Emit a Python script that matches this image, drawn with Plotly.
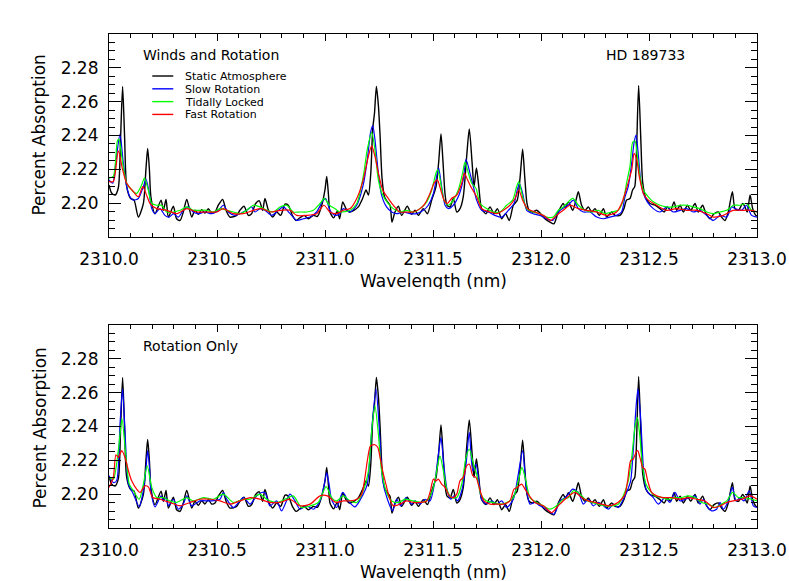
import plotly.graph_objects as go
from plotly.subplots import make_subplots

# ---------------- data ----------------
# Static atmosphere (same in both panels)
wl_static = [2310.000, 2310.012, 2310.028, 2310.043, 2310.054, 2310.063, 2310.072, 2310.082, 2310.100, 2310.116,
             2310.136, 2310.159, 2310.171, 2310.179, 2310.187, 2310.194, 2310.213, 2310.241, 2310.252, 2310.264,
             2310.275, 2310.298, 2310.313, 2310.329, 2310.344, 2310.360, 2310.383, 2310.398, 2310.414, 2310.429,
             2310.444, 2310.460, 2310.475, 2310.491, 2310.506, 2310.526, 2310.542, 2310.560, 2310.591, 2310.606,
             2310.625, 2310.645, 2310.660, 2310.679, 2310.696, 2310.711, 2310.722, 2310.738, 2310.758, 2310.776,
             2310.795, 2310.815, 2310.830, 2310.849, 2310.866, 2310.884, 2310.903, 2310.923, 2310.946, 2310.965,
             2310.985, 2311.000, 2311.008, 2311.016, 2311.023, 2311.040, 2311.057, 2311.068, 2311.082, 2311.097,
             2311.113, 2311.134, 2311.154, 2311.174, 2311.190, 2311.201, 2311.212, 2311.221, 2311.229, 2311.238,
             2311.247, 2311.255, 2311.264, 2311.275, 2311.285, 2311.301, 2311.310, 2311.324, 2311.340, 2311.355,
             2311.381, 2311.401, 2311.417, 2311.432, 2311.455, 2311.474, 2311.494, 2311.514, 2311.526, 2311.537,
             2311.546, 2311.556, 2311.565, 2311.579, 2311.594, 2311.610, 2311.625, 2311.640, 2311.656, 2311.668,
             2311.681, 2311.690, 2311.701, 2311.712, 2311.725, 2311.745, 2311.764, 2311.782, 2311.798, 2311.818,
             2311.836, 2311.853, 2311.872, 2311.890, 2311.903, 2311.915, 2311.925, 2311.935, 2311.945, 2311.961,
             2311.980, 2311.998, 2312.018, 2312.042, 2312.060, 2312.080, 2312.103, 2312.113, 2312.127, 2312.147,
             2312.162, 2312.173, 2312.188, 2312.204, 2312.219, 2312.235, 2312.250, 2312.270, 2312.289, 2312.304,
             2312.327, 2312.343, 2312.366, 2312.384, 2312.396, 2312.412, 2312.424, 2312.434, 2312.442, 2312.452,
             2312.462, 2312.471, 2312.486, 2312.505, 2312.528, 2312.551, 2312.570, 2312.585, 2312.600, 2312.616,
             2312.628, 2312.644, 2312.659, 2312.678, 2312.693, 2312.713, 2312.728, 2312.748, 2312.764, 2312.782,
             2312.801, 2312.821, 2312.836, 2312.852, 2312.867, 2312.886, 2312.898, 2312.914, 2312.934, 2312.944,
             2312.955, 2312.968, 2312.980, 2312.995, 2313.000]
pa_static = [2.2108, 2.2060, 2.2048, 2.2090, 2.2400, 2.2690, 2.2400, 2.2098, 2.2028, 2.2018,
             2.1918, 2.1998, 2.2200, 2.2323, 2.2200, 2.2038, 2.1938, 2.2018, 2.1958, 2.2022,
             2.1918, 2.1982, 2.1908, 2.1898, 2.1948, 2.2022, 2.1918, 2.1958, 2.1934, 2.1962,
             2.1942, 2.1968, 2.1942, 2.1948, 2.1988, 2.2022, 2.1958, 2.1918, 2.1928, 2.1958,
             2.1982, 2.1928, 2.1938, 2.1998, 2.2014, 2.1958, 2.2028, 2.1958, 2.1918, 2.1948,
             2.1928, 2.1994, 2.1988, 2.1928, 2.1898, 2.1914, 2.1928, 2.1908, 2.1928, 2.1922,
             2.1988, 2.2080, 2.2158, 2.2050, 2.1948, 2.1913, 2.1953, 2.1908, 2.2008, 2.1968,
             2.1948, 2.1958, 2.1978, 2.2028, 2.2078, 2.2048, 2.2178, 2.2440, 2.2530, 2.2690,
             2.2580, 2.2400, 2.2150, 2.2040, 2.2015, 2.1988, 2.1888, 2.1948, 2.1982, 2.1928,
             2.1982, 2.1934, 2.1958, 2.1928, 2.1968, 2.1938, 2.2018, 2.2098, 2.2239, 2.2409,
             2.2250, 2.2050, 2.1988, 2.1978, 2.2028, 2.1948, 2.1968, 2.2038, 2.2279, 2.2439,
             2.2239, 2.2098, 2.2209, 2.2098, 2.1968, 2.1938, 2.1978, 2.1938, 2.1968, 2.1908,
             2.1938, 2.1898, 2.1988, 2.2018, 2.2150, 2.2319, 2.2150, 2.2000, 2.1958, 2.1948,
             2.1958, 2.1938, 2.1908, 2.1888, 2.1878, 2.1948, 2.1998, 2.1975, 2.2008, 2.1958,
             2.2018, 2.2068, 2.1988, 2.1958, 2.1978, 2.1948, 2.1968, 2.1928, 2.1968, 2.1918,
             2.1948, 2.1928, 2.1928, 2.1968, 2.2018, 2.2028, 2.2078, 2.2098, 2.2300, 2.2696,
             2.2380, 2.2120, 2.2028, 2.1998, 2.1988, 2.1968, 2.1948, 2.1978, 2.1958, 2.2008,
             2.1958, 2.1988, 2.1948, 2.1988, 2.1958, 2.1998, 2.1948, 2.1988, 2.1938, 2.1908,
             2.1938, 2.1948, 2.1918, 2.1898, 2.1948, 2.2068, 2.1968, 2.1958, 2.1998, 2.1978,
             2.1948, 2.2048, 2.1968, 2.1928, 2.1925]

# ---- Winds and Rotation panel ----
wl_slow_wr = [2310.000, 2310.017, 2310.035, 2310.051, 2310.066, 2310.082, 2310.097, 2310.113, 2310.136, 2310.159,
              2310.171, 2310.184, 2310.198, 2310.213, 2310.236, 2310.259, 2310.279, 2310.298, 2310.321, 2310.344,
              2310.367, 2310.390, 2310.414, 2310.444, 2310.475, 2310.506, 2310.529, 2310.552, 2310.583, 2310.606,
              2310.637, 2310.660, 2310.676, 2310.699, 2310.722, 2310.753, 2310.784, 2310.807, 2310.838, 2310.869,
              2310.900, 2310.931, 2310.961, 2310.992, 2311.003, 2311.023, 2311.046, 2311.069, 2311.085, 2311.116,
              2311.147, 2311.177, 2311.196, 2311.211, 2311.221, 2311.231, 2311.247, 2311.262, 2311.285, 2311.309,
              2311.332, 2311.363, 2311.394, 2311.424, 2311.455, 2311.478, 2311.502, 2311.517, 2311.526, 2311.540,
              2311.556, 2311.571, 2311.594, 2311.617, 2311.640, 2311.653, 2311.671, 2311.687, 2311.702, 2311.725,
              2311.756, 2311.787, 2311.818, 2311.849, 2311.875, 2311.890, 2311.900, 2311.915, 2311.934, 2311.964,
              2311.995, 2312.026, 2312.054, 2312.080, 2312.111, 2312.125, 2312.150, 2312.173, 2312.196, 2312.227,
              2312.258, 2312.289, 2312.319, 2312.350, 2312.373, 2312.389, 2312.404, 2312.420, 2312.431, 2312.440,
              2312.451, 2312.461, 2312.474, 2312.492, 2312.520, 2312.551, 2312.582, 2312.613, 2312.644, 2312.674,
              2312.705, 2312.736, 2312.767, 2312.798, 2312.829, 2312.860, 2312.883, 2312.898, 2312.929, 2312.951,
              2312.975, 2313.000]
pa_slow_wr = [2.2138, 2.2118, 2.2279, 2.2409, 2.2239, 2.2098, 2.2038, 2.2018, 2.2028, 2.2098,
              2.2142, 2.2078, 2.1968, 2.1938, 2.1968, 2.1928, 2.1918, 2.1938, 2.1918, 2.1958,
              2.1978, 2.1948, 2.1938, 2.1948, 2.1938, 2.1958, 2.1988, 2.1948, 2.1928, 2.1938,
              2.1958, 2.1978, 2.1948, 2.1968, 2.1958, 2.1928, 2.1958, 2.1978, 2.1938, 2.1898,
              2.1908, 2.1918, 2.1948, 2.2018, 2.2028, 2.1958, 2.1928, 2.1938, 2.1968, 2.1948,
              2.1988, 2.2108, 2.2259, 2.2419, 2.2459, 2.2379, 2.2178, 2.2048, 2.1978, 2.1948,
              2.1938, 2.1948, 2.1938, 2.1938, 2.1958, 2.1988, 2.2058, 2.2158, 2.2209, 2.2098,
              2.1988, 2.1968, 2.1988, 2.2038, 2.2138, 2.2259, 2.2178, 2.2098, 2.2018, 2.1958,
              2.1948, 2.1928, 2.1918, 2.1958, 2.1998, 2.2078, 2.2118, 2.2058, 2.1958, 2.1938,
              2.1928, 2.1908, 2.1898, 2.1948, 2.1978, 2.1988, 2.2018, 2.1968, 2.1948, 2.1948,
              2.1918, 2.1908, 2.1918, 2.1928, 2.1948, 2.2038, 2.2098, 2.2239, 2.2359, 2.2403,
              2.2279, 2.2138, 2.2058, 2.2008, 2.1968, 2.1948, 2.1978, 2.1948, 2.1958, 2.1968,
              2.1948, 2.1958, 2.1928, 2.1898, 2.1928, 2.1918, 2.1978, 2.1968, 2.1958, 2.1988,
              2.1928, 2.1918]

wl_tidal_wr = [2310.000, 2310.020, 2310.039, 2310.046, 2310.063, 2310.082, 2310.105, 2310.128, 2310.151, 2310.164,
               2310.182, 2310.198, 2310.221, 2310.244, 2310.267, 2310.298, 2310.329, 2310.360, 2310.390, 2310.421,
               2310.452, 2310.483, 2310.514, 2310.545, 2310.576, 2310.606, 2310.637, 2310.668, 2310.699, 2310.730,
               2310.761, 2310.792, 2310.823, 2310.853, 2310.884, 2310.915, 2310.946, 2310.977, 2310.997, 2311.020,
               2311.046, 2311.069, 2311.116, 2311.147, 2311.177, 2311.196, 2311.216, 2311.231, 2311.247, 2311.267,
               2311.293, 2311.316, 2311.347, 2311.378, 2311.409, 2311.440, 2311.471, 2311.494, 2311.514, 2311.522,
               2311.536, 2311.551, 2311.571, 2311.594, 2311.617, 2311.637, 2311.648, 2311.664, 2311.679, 2311.699,
               2311.718, 2311.748, 2311.779, 2311.810, 2311.841, 2311.869, 2311.887, 2311.897, 2311.915, 2311.934,
               2311.964, 2311.995, 2312.026, 2312.057, 2312.080, 2312.103, 2312.119, 2312.147, 2312.173, 2312.204,
               2312.235, 2312.265, 2312.296, 2312.327, 2312.358, 2312.381, 2312.396, 2312.412, 2312.424, 2312.435,
               2312.446, 2312.458, 2312.474, 2312.497, 2312.520, 2312.551, 2312.582, 2312.613, 2312.644, 2312.674,
               2312.705, 2312.736, 2312.767, 2312.798, 2312.829, 2312.860, 2312.890, 2312.921, 2312.951, 2312.975,
               2313.000]
pa_tidal_wr = [2.2148, 2.2158, 2.2369, 2.2379, 2.2239, 2.2118, 2.2078, 2.2058, 2.2108, 2.2148,
               2.2078, 2.1998, 2.1988, 2.1988, 2.1948, 2.1948, 2.1958, 2.1978, 2.1958, 2.1958,
               2.1958, 2.1948, 2.1968, 2.1958, 2.1948, 2.1938, 2.1958, 2.1988, 2.1978, 2.1958,
               2.1948, 2.1978, 2.1988, 2.1948, 2.1948, 2.1948, 2.1958, 2.1998, 2.2028, 2.1988,
               2.1968, 2.1948, 2.1958, 2.1998, 2.2158, 2.2319, 2.2419, 2.2319, 2.2138, 2.2048,
               2.1998, 2.1968, 2.1948, 2.1958, 2.1948, 2.1968, 2.2008, 2.2078, 2.2178, 2.2198,
               2.2118, 2.2018, 2.1988, 2.2018, 2.2078, 2.2178, 2.2243, 2.2178, 2.2118, 2.2088,
               2.1998, 2.1968, 2.1948, 2.1948, 2.1988, 2.2018, 2.2098, 2.2128, 2.2038, 2.1968,
               2.1948, 2.1938, 2.1918, 2.1918, 2.1958, 2.1978, 2.1998, 2.2028, 2.1988, 2.1958,
               2.1948, 2.1958, 2.1938, 2.1948, 2.1958, 2.2018, 2.2118, 2.2219, 2.2359, 2.2369,
               2.2279, 2.2158, 2.2078, 2.2038, 2.2008, 2.1988, 2.1978, 2.1978, 2.1988, 2.1988,
               2.1978, 2.1968, 2.1948, 2.1938, 2.1948, 2.1958, 2.1988, 2.1988, 2.1998, 2.1958,
               2.1948]

wl_fast_wr = [2310.000, 2310.020, 2310.043, 2310.063, 2310.082, 2310.113, 2310.136, 2310.156, 2310.171, 2310.190,
              2310.221, 2310.267, 2310.313, 2310.360, 2310.406, 2310.452, 2310.498, 2310.529, 2310.576, 2310.622,
              2310.668, 2310.707, 2310.745, 2310.792, 2310.838, 2310.869, 2310.915, 2310.961, 2310.995, 2311.023,
              2311.054, 2311.085, 2311.116, 2311.147, 2311.177, 2311.201, 2311.216, 2311.231, 2311.247, 2311.267,
              2311.293, 2311.316, 2311.347, 2311.378, 2311.409, 2311.440, 2311.463, 2311.486, 2311.505, 2311.520,
              2311.536, 2311.551, 2311.566, 2311.586, 2311.610, 2311.633, 2311.645, 2311.660, 2311.679, 2311.702,
              2311.725, 2311.764, 2311.795, 2311.826, 2311.856, 2311.880, 2311.897, 2311.915, 2311.937, 2311.972,
              2312.011, 2312.045, 2312.072, 2312.103, 2312.134, 2312.173, 2312.211, 2312.258, 2312.304, 2312.350,
              2312.373, 2312.396, 2312.420, 2312.431, 2312.443, 2312.455, 2312.474, 2312.497, 2312.535, 2312.582,
              2312.628, 2312.674, 2312.721, 2312.767, 2312.798, 2312.844, 2312.890, 2312.937, 2312.975, 2313.000]
pa_fast_wr = [2.2128, 2.2128, 2.2309, 2.2198, 2.2118, 2.2068, 2.2038, 2.2098, 2.2058, 2.1998,
              2.1968, 2.1958, 2.1938, 2.1968, 2.1948, 2.1948, 2.1948, 2.1968, 2.1938, 2.1938,
              2.1958, 2.1968, 2.1948, 2.1958, 2.1958, 2.1928, 2.1928, 2.1938, 2.1988, 2.1948,
              2.1938, 2.1958, 2.1968, 2.2028, 2.2138, 2.2279, 2.2339, 2.2279, 2.2178, 2.2078,
              2.2028, 2.1988, 2.1948, 2.1948, 2.1948, 2.1968, 2.1998, 2.2058, 2.2118, 2.2138,
              2.2078, 2.2018, 2.1998, 2.2028, 2.2048, 2.2118, 2.2178, 2.2138, 2.2088, 2.2038,
              2.1968, 2.1948, 2.1938, 2.1958, 2.1988, 2.2028, 2.2078, 2.2018, 2.1968, 2.1948,
              2.1928, 2.1898, 2.1928, 2.1958, 2.1988, 2.1968, 2.1958, 2.1948, 2.1928, 2.1948,
              2.1998, 2.2088, 2.2198, 2.2295, 2.2259, 2.2158, 2.2058, 2.2018, 2.1988, 2.1958,
              2.1968, 2.1958, 2.1958, 2.1938, 2.1918, 2.1928, 2.1958, 2.1958, 2.1958, 2.1948]

# ---- Rotation Only panel ----
wl_slow_rot = [2310.000, 2310.020, 2310.035, 2310.051, 2310.063, 2310.076, 2310.090, 2310.113, 2310.140, 2310.159,
               2310.171, 2310.179, 2310.188, 2310.194, 2310.213, 2310.241, 2310.252, 2310.264, 2310.275, 2310.298,
               2310.321, 2310.344, 2310.360, 2310.383, 2310.421, 2310.468, 2310.514, 2310.529, 2310.545, 2310.576,
               2310.622, 2310.653, 2310.684, 2310.707, 2310.722, 2310.745, 2310.776, 2310.799, 2310.838, 2310.861,
               2310.884, 2310.915, 2310.946, 2310.977, 2310.997, 2311.008, 2311.020, 2311.030, 2311.054, 2311.082,
               2311.108, 2311.139, 2311.177, 2311.196, 2311.216, 2311.236, 2311.252, 2311.267, 2311.289, 2311.313,
               2311.332, 2311.350, 2311.375, 2311.401, 2311.417, 2311.440, 2311.463, 2311.486, 2311.509, 2311.525,
               2311.537, 2311.551, 2311.566, 2311.582, 2311.597, 2311.613, 2311.633, 2311.653, 2311.668, 2311.684,
               2311.699, 2311.712, 2311.725, 2311.748, 2311.772, 2311.795, 2311.818, 2311.841, 2311.872, 2311.895,
               2311.915, 2311.930, 2311.949, 2311.972, 2311.995, 2312.026, 2312.060, 2312.088, 2312.111, 2312.127,
               2312.147, 2312.173, 2312.196, 2312.219, 2312.242, 2312.265, 2312.289, 2312.312, 2312.335, 2312.358,
               2312.381, 2312.396, 2312.415, 2312.427, 2312.440, 2312.449, 2312.461, 2312.474, 2312.486, 2312.502,
               2312.520, 2312.543, 2312.574, 2312.597, 2312.620, 2312.644, 2312.667, 2312.690, 2312.713, 2312.736,
               2312.752, 2312.767, 2312.790, 2312.813, 2312.829, 2312.844, 2312.867, 2312.886, 2312.903, 2312.921,
               2312.940, 2312.964, 2312.983, 2313.000]
pa_slow_rot = [2.2109, 2.2069, 2.2079, 2.2415, 2.2622, 2.2316, 2.2059, 2.2000, 2.1925, 2.2020,
               2.2150, 2.2257, 2.2150, 2.2020, 2.1925, 2.1990, 2.1960, 2.1980, 2.1931, 2.1970,
               2.1911, 2.1941, 2.1990, 2.1931, 2.1960, 2.1960, 2.1970, 2.2010, 2.1970, 2.1921,
               2.1980, 2.1941, 2.1990, 2.2010, 2.2010, 2.1931, 2.1960, 2.1901, 2.2000, 2.1960,
               2.1911, 2.1931, 2.1911, 2.1960, 2.2060, 2.2128, 2.2050, 2.1970, 2.1921, 2.2010,
               2.1960, 2.1925, 2.2000, 2.2059, 2.2375, 2.2622, 2.2375, 2.2079, 2.1970, 2.1901,
               2.1970, 2.1931, 2.1980, 2.1941, 2.1960, 2.1941, 2.1970, 2.1960, 2.2079, 2.2237,
               2.2336, 2.2158, 2.2020, 2.1970, 2.1990, 2.1960, 2.2020, 2.2178, 2.2366, 2.2138,
               2.2178, 2.2079, 2.1970, 2.1941, 2.1960, 2.1941, 2.1960, 2.1921, 2.1970, 2.2119,
               2.2257, 2.2059, 2.1941, 2.1951, 2.1931, 2.1911, 2.1881, 2.1960, 2.1980, 2.2000,
               2.2030, 2.2010, 2.1941, 2.1970, 2.1931, 2.1951, 2.1931, 2.1911, 2.1941, 2.1921,
               2.1970, 2.2010, 2.2079, 2.2257, 2.2514, 2.2622, 2.2455, 2.2158, 2.2030, 2.2000,
               2.1980, 2.1941, 2.1980, 2.1951, 2.2010, 2.1960, 2.1970, 2.1980, 2.1990, 2.1941,
               2.1970, 2.1931, 2.1901, 2.1911, 2.1951, 2.1911, 2.1960, 2.2040, 2.1960, 2.1980,
               2.1960, 2.2020, 2.1931, 2.1921]

wl_tidal_rot = [2310.000, 2310.020, 2310.043, 2310.060, 2310.076, 2310.094, 2310.113, 2310.140, 2310.159, 2310.177,
                2310.198, 2310.221, 2310.252, 2310.282, 2310.313, 2310.360, 2310.390, 2310.437, 2310.483, 2310.529,
                2310.576, 2310.622, 2310.653, 2310.699, 2310.730, 2310.776, 2310.815, 2310.853, 2310.892, 2310.931,
                2310.969, 2311.005, 2311.031, 2311.054, 2311.085, 2311.116, 2311.147, 2311.177, 2311.201, 2311.216,
                2311.231, 2311.247, 2311.262, 2311.285, 2311.309, 2311.340, 2311.370, 2311.409, 2311.448, 2311.478,
                2311.502, 2311.520, 2311.532, 2311.548, 2311.566, 2311.586, 2311.610, 2311.633, 2311.653, 2311.668,
                2311.687, 2311.702, 2311.721, 2311.748, 2311.779, 2311.810, 2311.841, 2311.872, 2311.895, 2311.912,
                2311.930, 2311.949, 2311.980, 2312.011, 2312.042, 2312.072, 2312.103, 2312.127, 2312.150, 2312.173,
                2312.204, 2312.235, 2312.265, 2312.296, 2312.327, 2312.358, 2312.381, 2312.404, 2312.420, 2312.435,
                2312.446, 2312.458, 2312.471, 2312.486, 2312.505, 2312.528, 2312.559, 2312.590, 2312.620, 2312.651,
                2312.682, 2312.713, 2312.744, 2312.775, 2312.806, 2312.836, 2312.860, 2312.887, 2312.914, 2312.944,
                2312.975, 2313.000]
pa_tidal_rot = [2.2099, 2.2089, 2.2257, 2.2445, 2.2257, 2.2059, 2.2020, 2.1970, 2.2059, 2.2168,
                2.2040, 2.1980, 2.1980, 2.1960, 2.1951, 2.1980, 2.1960, 2.1980, 2.1970, 2.2000,
                2.1951, 2.1970, 2.1970, 2.2000, 2.1970, 2.1951, 2.1970, 2.1990, 2.1921, 2.1931,
                2.1951, 2.2045, 2.1980, 2.1960, 2.1990, 2.1960, 2.1951, 2.2020, 2.2138, 2.2375,
                2.2524, 2.2356, 2.2138, 2.2010, 2.1960, 2.1951, 2.1970, 2.1960, 2.1951, 2.1970,
                2.2040, 2.2158, 2.2227, 2.2138, 2.2020, 2.1980, 2.1980, 2.2059, 2.2217, 2.2267,
                2.2178, 2.2119, 2.2000, 2.1960, 2.1951, 2.1941, 2.1951, 2.1980, 2.2079, 2.2158,
                2.2079, 2.1980, 2.1951, 2.1931, 2.1911, 2.1931, 2.1970, 2.1980, 2.2020, 2.2010,
                2.1970, 2.1951, 2.1941, 2.1931, 2.1931, 2.1941, 2.1990, 2.2079, 2.2217, 2.2395,
                2.2454, 2.2336, 2.2158, 2.2059, 2.2020, 2.1990, 2.1980, 2.1970, 2.1980, 2.1980,
                2.1990, 2.1980, 2.1951, 2.1941, 2.1921, 2.1941, 2.1960, 2.2010, 2.1980, 2.1980,
                2.1970, 2.1960]

wl_fast_rot = [2310.000, 2310.020, 2310.032, 2310.043, 2310.059, 2310.074, 2310.090, 2310.105, 2310.128, 2310.144,
               2310.167, 2310.182, 2310.202, 2310.236, 2310.282, 2310.329, 2310.375, 2310.421, 2310.468, 2310.514,
               2310.560, 2310.606, 2310.653, 2310.699, 2310.745, 2310.792, 2310.838, 2310.884, 2310.931, 2310.977,
               2311.011, 2311.039, 2311.054, 2311.085, 2311.116, 2311.147, 2311.170, 2311.185, 2311.196, 2311.211,
               2311.231, 2311.244, 2311.255, 2311.267, 2311.282, 2311.298, 2311.316, 2311.347, 2311.378, 2311.409,
               2311.440, 2311.471, 2311.486, 2311.502, 2311.514, 2311.525, 2311.540, 2311.556, 2311.576, 2311.594,
               2311.610, 2311.625, 2311.640, 2311.656, 2311.668, 2311.684, 2311.699, 2311.718, 2311.736, 2311.764,
               2311.795, 2311.826, 2311.856, 2311.875, 2311.890, 2311.910, 2311.926, 2311.946, 2311.972, 2312.011,
               2312.049, 2312.080, 2312.111, 2312.157, 2312.188, 2312.219, 2312.250, 2312.281, 2312.312, 2312.343,
               2312.373, 2312.389, 2312.401, 2312.415, 2312.427, 2312.440, 2312.448, 2312.458, 2312.471, 2312.481,
               2312.494, 2312.512, 2312.535, 2312.566, 2312.605, 2312.644, 2312.682, 2312.721, 2312.759, 2312.798,
               2312.829, 2312.860, 2312.890, 2312.929, 2312.968, 2313.000]
pa_fast_rot = [2.2040, 2.2099, 2.2233, 2.2217, 2.2257, 2.2217, 2.2138, 2.2079, 2.2030, 2.2010,
               2.2049, 2.2043, 2.1980, 2.1970, 2.1951, 2.1931, 2.1951, 2.1970, 2.1970, 2.1960,
               2.1941, 2.1960, 2.1980, 2.1970, 2.1951, 2.1951, 2.1970, 2.1931, 2.1941, 2.1990,
               2.1990, 2.1960, 2.1951, 2.1960, 2.1960, 2.1970, 2.2000, 2.2099, 2.2198, 2.2287,
               2.2292, 2.2277, 2.2217, 2.2138, 2.2059, 2.1980, 2.1931, 2.1941, 2.1960, 2.1951,
               2.1951, 2.1960, 2.2010, 2.2089, 2.2079, 2.2089, 2.2059, 2.2040, 2.1990, 2.1980,
               2.2000, 2.2079, 2.2099, 2.2168, 2.2178, 2.2109, 2.2099, 2.2020, 2.1960, 2.1941,
               2.1941, 2.1941, 2.1960, 2.2030, 2.2040, 2.2059, 2.2030, 2.1990, 2.1951, 2.1931,
               2.1891, 2.1931, 2.1970, 2.2010, 2.1980, 2.1960, 2.1951, 2.1941, 2.1931, 2.1941,
               2.1970, 2.2000, 2.2079, 2.2198, 2.2207, 2.2247, 2.2257, 2.2217, 2.2158, 2.2148,
               2.2079, 2.2010, 2.1990, 2.1980, 2.1980, 2.1970, 2.1980, 2.1970, 2.1960, 2.1921,
               2.1931, 2.1951, 2.1960, 2.1970, 2.1990, 2.1970]

series_names = ["Static Atmosphere", "Slow Rotation", "Tidally Locked", "Fast Rotation"]
series_colors = ["#000000", "#0000ff", "#00ff00", "#ff0000"]
panel_titles = ["Winds and Rotation", "Rotation Only"]
star_name = "HD 189733"
x_ticks = [2310.0, 2310.5, 2311.0, 2311.5, 2312.0, 2312.5, 2313.0]
y_ticks = [2.20, 2.22, 2.24, 2.26, 2.28]

# ---------------- figure ----------------
FONT = "DejaVu Sans"
fig = make_subplots(rows=2, cols=1, vertical_spacing=0.178)

panels = [
    [(wl_static, pa_static), (wl_slow_wr, pa_slow_wr), (wl_tidal_wr, pa_tidal_wr), (wl_fast_wr, pa_fast_wr)],
    [(wl_static, pa_static), (wl_slow_rot, pa_slow_rot), (wl_tidal_rot, pa_tidal_rot), (wl_fast_rot, pa_fast_rot)],
]
widths = [1.4, 1.2, 1.2, 1.2]
for r, panel in enumerate(panels, start=1):
    for (xs, ys), name, col, w in zip(panel, series_names, series_colors, widths):
        fig.add_trace(go.Scatter(x=xs, y=ys, mode="lines", name=name,
                                 line=dict(color=col, width=w, shape="spline", smoothing=0.7),
                                 showlegend=False), row=r, col=1)

axis_common = dict(showgrid=False, zeroline=False, showline=True, linecolor="black", linewidth=1.2,
                   mirror="ticks", ticks="inside", tickcolor="black", tickwidth=1, automargin=False,
                   tickfont=dict(family=FONT, size=17, color="black"))
for r in (1, 2):
    fig.update_xaxes(range=[2310.0, 2313.0], tickvals=x_ticks, tickformat=".1f", ticklen=7,
                     minor=dict(dtick=0.1, ticklen=4, ticks="inside", tickcolor="black", tickwidth=1),
                     ticklabelstandoff=6, **axis_common, row=r, col=1)
    fig.update_yaxes(range=[2.18, 2.30], tickvals=y_ticks, tickformat=".2f", ticklen=12,
                     minor=dict(dtick=0.005, ticklen=6, ticks="inside", tickcolor="black", tickwidth=1),
                     ticklabelstandoff=6, **axis_common, row=r, col=1)

fig.update_layout(width=789, height=581, margin=dict(l=109, r=32, t=34, b=53, autoexpand=False),
                  paper_bgcolor="white", plot_bgcolor="white", showlegend=False,
                  font=dict(family=FONT, color="black"))
fig.update_yaxes(domain=[0.589, 1.0], row=1, col=1)
fig.update_yaxes(domain=[0.0, 0.411], row=2, col=1)

anns = []
for r, xr, yr in ((1, "x domain", "y domain"), (2, "x2 domain", "y2 domain")):
    anns.append(dict(text="Wavelength (nm)", xref=xr, yref=yr, x=0.5, y=-0.215,
                     showarrow=False, xanchor="center", yanchor="middle", height=16, borderpad=0,
                     font=dict(family=FONT, size=17)))
    anns.append(dict(text="Percent Absorption", xref=xr, yref=yr, x=-0.108, y=0.5 if r == 1 else 0.49,
                     textangle=-90, showarrow=False, xanchor="center", yanchor="middle",
                     font=dict(family=FONT, size=17)))
    anns.append(dict(text=panel_titles[r - 1], xref=xr, yref=yr, x=0.049, y=0.8966,
                     showarrow=False, xanchor="left", yanchor="middle", font=dict(family=FONT, size=14)))

anns.append(dict(text=star_name, xref="x domain", yref="y domain", x=0.8287, y=0.8966,
                 showarrow=False, xanchor="center", yanchor="middle", font=dict(family=FONT, size=14)))

legend_rows = [0.7931, 0.7300, 0.6670, 0.6039]
shapes = []
for name, col, yy in zip(series_names, series_colors, legend_rows):
    shapes.append(dict(type="line", xref="x domain", yref="y domain", x0=0.0668, x1=0.0992, y0=yy, y1=yy,
                       line=dict(color=col, width=1.4)))
    anns.append(dict(text=name, xref="x domain", yref="y domain", x=0.1157, y=yy, showarrow=False,
                     xanchor="left", yanchor="middle", height=12, borderpad=0,
                     font=dict(family=FONT, size=11)))

fig.update_layout(annotations=anns, shapes=shapes)
# remove the default 8px page margin so the 789x581 figure fills the window exactly
fig.write_html("out.html", config={"displayModeBar": False},
               post_script="document.body.style.margin='0';document.body.style.overflow='hidden';")
